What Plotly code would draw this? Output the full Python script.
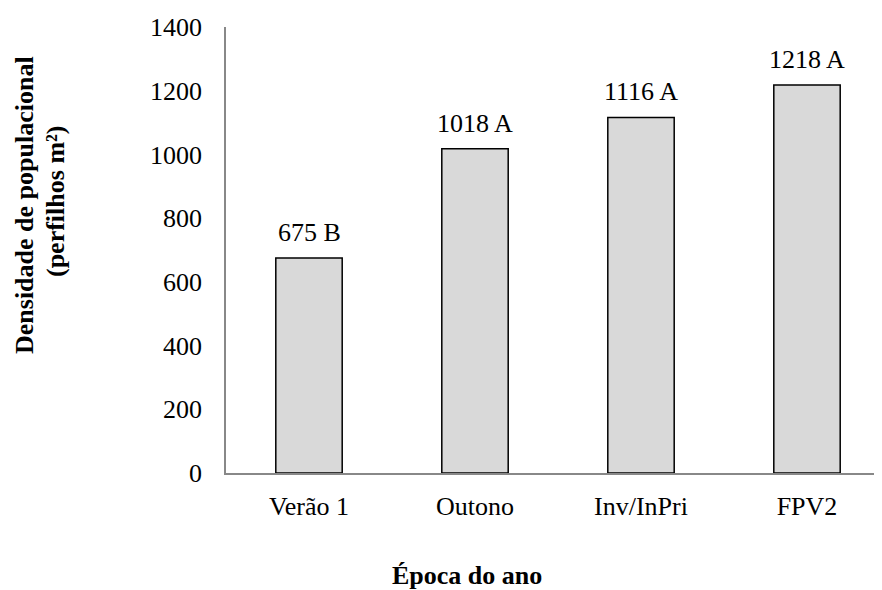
import plotly.graph_objects as go

categories = ["Verão 1", "Outono", "Inv/InPri", "FPV2"]
values = [675, 1018, 1116, 1218]
letters = ["B", "A", "A", "A"]
y_ticks = [0, 200, 400, 600, 800, 1000, 1200, 1400]

FONT = "Liberation Serif, Times New Roman, serif"
L, R, T, B = 218, 0, 19, 125
W, H = 882, 590
PW, PH = W - L - R, H - T - B


def px(xf):
    return (xf - L) / PW


def py(yf):
    return (H - B - yf) / PH


fig = go.Figure()
fig.add_trace(go.Bar(
    x=categories, y=values,
    marker=dict(color="#d9d9d9", line=dict(color="black", width=1.5)),
    width=0.4,
))

for c, v, l in zip(categories, values, letters):
    fig.add_annotation(x=c, y=v, text=f"{v} {l}", showarrow=False,
                       yanchor="bottom", yshift=9,
                       font=dict(family=FONT, size=26, color="black"))

fig.add_annotation(xref="paper", yref="paper", x=px(459), y=py(567),
                   xanchor="center", yanchor="middle",
                   text="<b>Época do ano</b>", showarrow=False,
                   font=dict(family=FONT, size=26, color="black"))
fig.add_annotation(xref="paper", yref="paper", x=px(16), y=py(197),
                   xanchor="center", yanchor="middle",
                   text="<b>Densidade de populacional</b>",
                   showarrow=False, textangle=-90,
                   font=dict(family=FONT, size=26, color="black"))
fig.add_annotation(xref="paper", yref="paper", x=px(47), y=py(193),
                   xanchor="center", yanchor="middle",
                   text="<b>(perfilhos m²)</b>",
                   showarrow=False, textangle=-90,
                   font=dict(family=FONT, size=26, color="black"))

fig.update_layout(
    width=W, height=H,
    margin=dict(l=L, r=R, t=T, b=B),
    plot_bgcolor="white", paper_bgcolor="white",
    showlegend=False,
    font=dict(family=FONT, size=26, color="black"),
)
fig.update_xaxes(showline=True, linecolor="#888888", linewidth=1.5,
                 showgrid=False, ticks="", ticklabelstandoff=9,
                 tickfont=dict(family=FONT, size=26, color="black"))
fig.update_yaxes(range=[0, 1400], tickvals=y_ticks, showline=True,
                 linecolor="#888888", linewidth=1.5, showgrid=False,
                 ticks="", ticklabelstandoff=17, zeroline=False,
                 tickfont=dict(family=FONT, size=26, color="black"))

fig.write_html("out.html")
